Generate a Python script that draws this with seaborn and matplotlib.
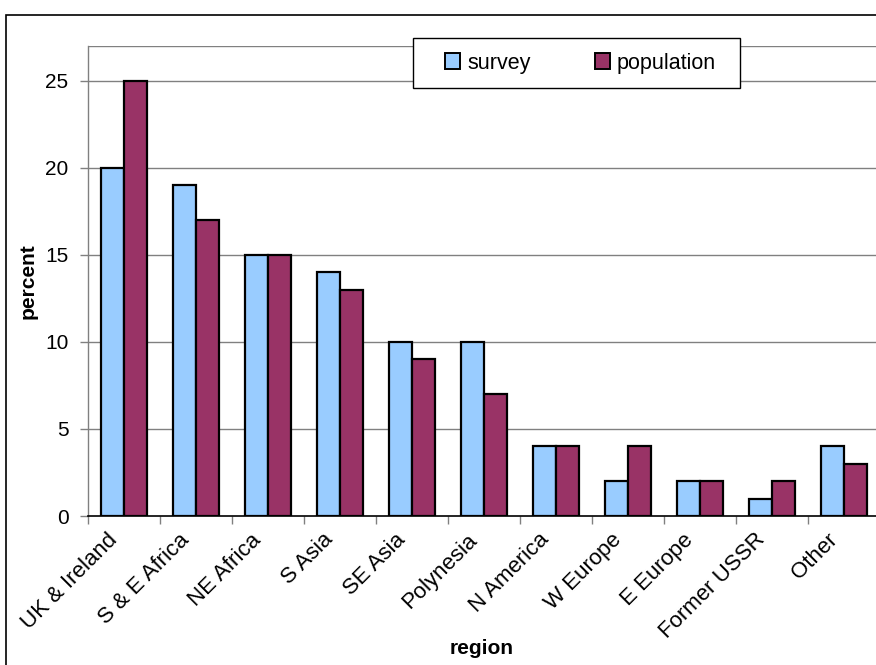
import matplotlib
matplotlib.use("Agg")
import matplotlib.pyplot as plt
import matplotlib.transforms as mtransforms
import seaborn as sns
import pandas as pd
from matplotlib.patches import Rectangle

regions = ["UK & Ireland", "S & E Africa", "NE Africa", "S Asia", "SE Asia",
           "Polynesia", "N America", "W Europe", "E Europe", "Former USSR", "Other"]
survey = [20, 19, 15, 14, 10, 10, 4, 2, 2, 1, 4]
population = [25, 17, 15, 13, 9, 7, 4, 4, 2, 2, 3]
series = ["survey", "population"]
colors = ["#99CCFF", "#993366"]

df = pd.DataFrame({
    "region": regions * 2,
    "percent": survey + population,
    "series": ["survey"] * len(regions) + ["population"] * len(regions),
})

sns.set_theme(style="white")
plt.rcParams["font.family"] = ["Liberation Sans", "DejaVu Sans"]
plt.rcParams["text.color"] = "black"
plt.rcParams["xtick.color"] = "black"
plt.rcParams["ytick.color"] = "black"
plt.rcParams["axes.labelcolor"] = "black"

FS = 15
fig = plt.figure(figsize=(8.76, 6.65), dpi=100)
W, H = 876, 665
ax = fig.add_axes([88 / W, (H - 516) / H, (880 - 88) / W, (516 - 46) / H])

sns.barplot(data=df, x="region", y="percent", hue="series", hue_order=series,
            palette=colors, saturation=1, width=0.64, gap=0, edgecolor="black",
            linewidth=1.6, ax=ax, zorder=3, legend=True)

ax.set_xlim(-0.5, 10.5)
ax.set_ylim(0, 27)
ax.set_yticks([0, 5, 10, 15, 20, 25])
for v in [5, 10, 15, 20, 25, 27]:
    ax.axhline(v, color="#808080", lw=1.0, zorder=1)

for s in ["top", "right"]:
    ax.spines[s].set_visible(False)
ax.spines["left"].set_color("#808080")
ax.spines["bottom"].set_color("black")
ax.spines["left"].set_linewidth(1.0)
ax.spines["bottom"].set_linewidth(1.2)

ax.tick_params(axis="y", which="major", direction="out", length=6, width=1,
               color="#808080", labelcolor="black", labelsize=FS, left=True, pad=8)
ax.set_xticks(range(len(regions)))
ax.set_xticklabels(regions, rotation=45, ha="right", va="center",
                   rotation_mode="anchor")
ax.tick_params(axis="x", which="major", length=0, labelsize=16,
               labelcolor="black", pad=15)
offset = mtransforms.ScaledTranslation(-10 / 100, 0, fig.dpi_scale_trans)
for lab in ax.get_xticklabels():
    lab.set_transform(lab.get_transform() + offset)
ax.set_xticks([i - 0.5 for i in range(len(regions) + 1)], minor=True)
ax.tick_params(axis="x", which="minor", direction="out", length=6, width=1,
               color="#808080", bottom=True)

ax.set_xlabel("region", fontsize=FS, fontweight="bold")
ax.set_ylabel("percent", fontsize=FS, fontweight="bold")
ax.xaxis.label.set_va("center")
ax.yaxis.label.set_va("center")
ax.xaxis.set_label_coords((482 - 88) / 792, (516 - 648) / 470)
ax.yaxis.set_label_coords((28 - 88) / 792, (516 - 281) / 470)

# legend frame drawn as a box, legend entries placed inside it
ax.add_patch(Rectangle((413 / W, (H - 88) / H), (740 - 413) / W, 50 / H,
                       transform=fig.transFigure, clip_on=False,
                       facecolor="white", edgecolor="black", lw=1.0, zorder=4))
leg = ax.legend(loc="center left",
                bbox_to_anchor=(445 / W, (H - 63) / H),
                bbox_transform=fig.transFigure,
                ncol=2, frameon=False, fontsize=15.5,
                handlelength=0.72, handleheight=0.72, handletextpad=0.3,
                columnspacing=3.0, borderaxespad=0, borderpad=0, title=None)
leg.set_zorder(5)
for h in leg.legend_handles:
    h.set_edgecolor("black")
    h.set_linewidth(1.4)

fig.patches.append(Rectangle((6 / W, -0.1), 1.2, (H - 15) / H + 0.1,
                             transform=fig.transFigure, fill=False,
                             edgecolor="black", lw=1.2))

fig.savefig("out.png", dpi=100)
